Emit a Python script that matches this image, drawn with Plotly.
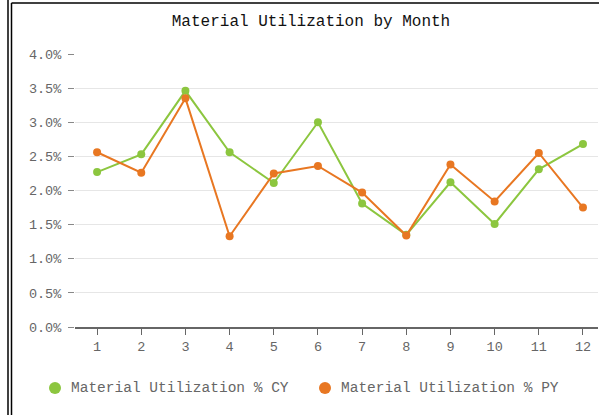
import plotly.graph_objects as go

months = [1, 2, 3, 4, 5, 6, 7, 8, 9, 10, 11, 12]
cy_values = [2.27, 2.53, 3.46, 2.56, 2.11, 3.00, 1.81, 1.35, 2.12, 1.51, 2.31, 2.68]
py_values = [2.56, 2.26, 3.35, 1.33, 2.25, 2.36, 1.97, 1.34, 2.38, 1.84, 2.55, 1.75]
y_ticks = [0.0, 0.5, 1.0, 1.5, 2.0, 2.5, 3.0, 3.5, 4.0]
y_tick_labels = ["0.0%", "0.5%", "1.0%", "1.5%", "2.0%", "2.5%", "3.0%", "3.5%", "4.0%"]
series_names = ["Material Utilization % CY", "Material Utilization % PY"]

GREEN = "#8cc63f"
ORANGE = "#e87722"
FONT = "Liberation Mono, Courier New, monospace"

W, H = 599, 415
L, R, T, B = 75, 1, 54, 88

fig = go.Figure()
for name, vals, col in [(series_names[0], cy_values, GREEN), (series_names[1], py_values, ORANGE)]:
    fig.add_trace(go.Scatter(x=months, y=vals, mode="lines+markers", name=name,
                             showlegend=False,
                             line=dict(color=col, width=2),
                             marker=dict(color=col, size=8)))

pw = W - L - R
ph = H - T - B
def px_x(p):
    return (p - L) / pw
def px_y(p):
    return (H - B - p) / ph

shapes = [
    dict(type="line", xref="paper", yref="paper", x0=px_x(8), x1=px_x(8), y0=px_y(0), y1=px_y(415),
         line=dict(color="black", width=1.5)),
    dict(type="line", xref="paper", yref="paper", x0=px_x(11.5), x1=px_x(11.5), y0=px_y(3), y1=px_y(415),
         line=dict(color="black", width=1.5)),
    dict(type="line", xref="paper", yref="paper", x0=px_x(11.5), x1=px_x(600), y0=px_y(3), y1=px_y(3),
         line=dict(color="black", width=1.5)),
]

# manual legend (marker circle + text), positioned like the reference
legend_y = 388
legend_items = [(series_names[0], GREEN, 55), (series_names[1], ORANGE, 325)]
annotations = []
for name, col, mx in legend_items:
    shapes.append(dict(type="circle", xref="paper", yref="paper",
                       xsizemode="pixel", ysizemode="pixel",
                       xanchor=px_x(mx), yanchor=px_y(legend_y),
                       x0=-6, x1=6, y0=-6, y1=6,
                       fillcolor=col, line=dict(color=col, width=0)))
    annotations.append(dict(text=name, xref="paper", yref="paper",
                            x=px_x(mx + 14), y=px_y(legend_y), xanchor="left", yanchor="middle",
                            showarrow=False,
                            font=dict(family=FONT, size=14.5, color="#666666")))

fig.update_layout(
    width=W, height=H,
    margin=dict(l=L, r=R, t=T, b=B),
    paper_bgcolor="white", plot_bgcolor="white",
    font=dict(family=FONT, color="#666666", size=14),
    title=dict(text="Material Utilization by Month", x=311 / W, xref="container",
               xanchor="center", y=1 - 20 / H, yref="container", yanchor="middle",
               font=dict(family=FONT, size=16, color="#111111")),
    showlegend=False,
    shapes=shapes,
    annotations=annotations,
    xaxis=dict(range=[0.5, 12.34], tickvals=months, ticks="outside", ticklen=6,
               tickcolor="#666666", showgrid=False, showline=True, linecolor="#666666",
               linewidth=1.5, zeroline=False, tickfont=dict(size=13.5)),
    yaxis=dict(range=[0, 4.0], tickvals=y_ticks, ticktext=y_tick_labels, ticks="outside",
               ticklen=6, tickcolor="#888888", showgrid=True, gridcolor="#e6e6e6",
               showline=False, zeroline=False, tickfont=dict(size=13.5), ticklabelstandoff=4),
)

fig.write_html("out.html", config={"displayModeBar": False},
               post_script="document.body.style.margin='0';")
